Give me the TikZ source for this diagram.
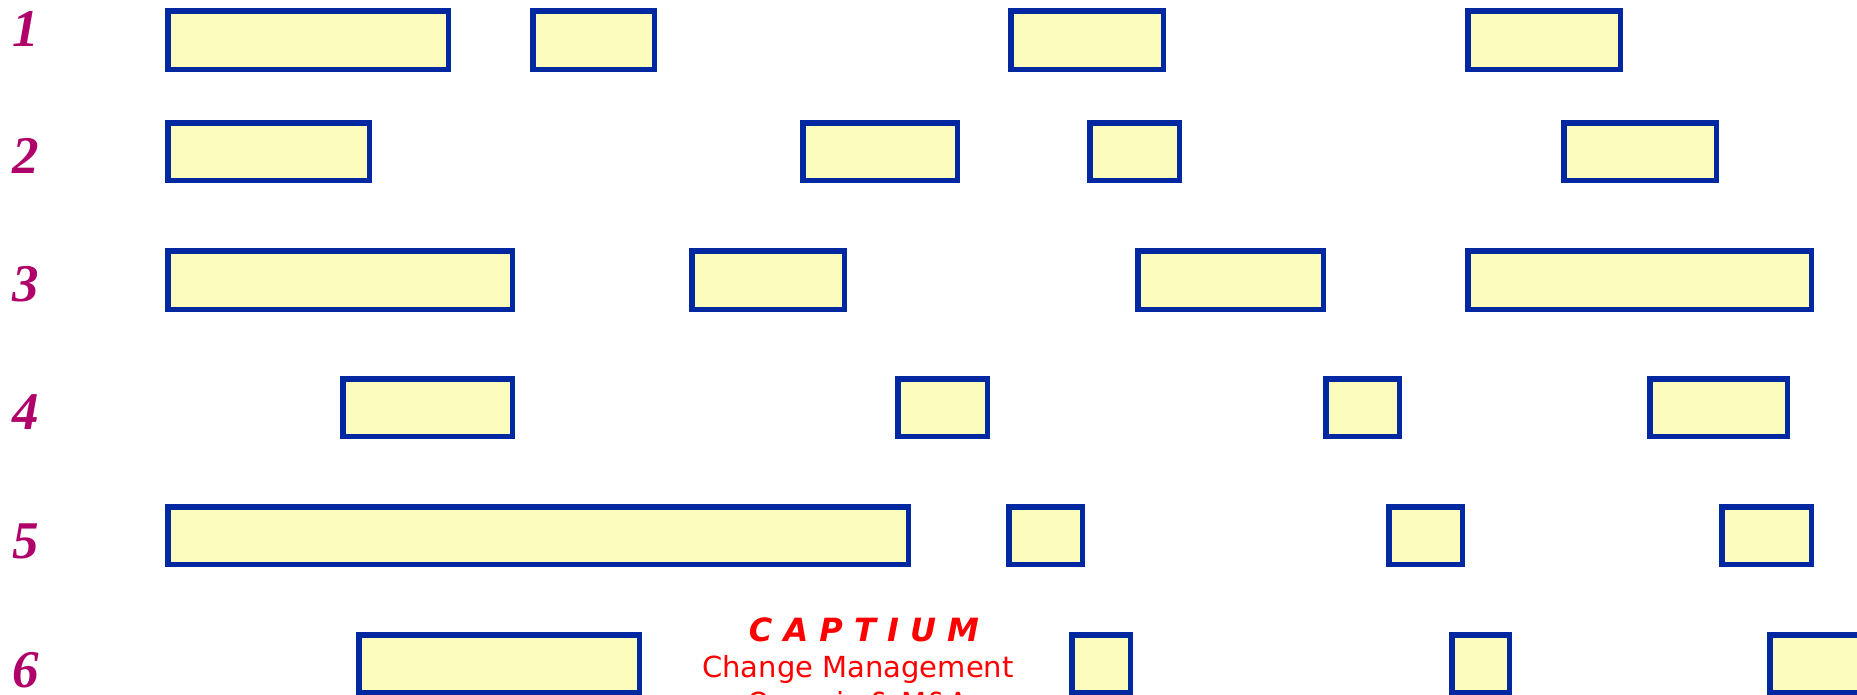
\documentclass[tikz,border=0pt]{standalone}
\usepackage{fontspec}
\setmainfont{DejaVu Sans}
\newfontfamily\digitfont{Liberation Serif}
\definecolor{boxfill}{RGB}{252,252,188}
\definecolor{boxline}{RGB}{0,40,160}
\definecolor{numcol}{RGB}{176,0,106}
\definecolor{captred}{RGB}{255,0,0}
\tikzset{
  barbox/.style={draw=boxline, fill=boxfill, line width=5.5pt, inner sep=0pt, rectangle},
  rownum/.style={text=numcol, font=\digitfont\bfseries\itshape\fontsize{53}{53}\selectfont, inner sep=0pt},
  capttitle/.style={text=captred, font=\bfseries\itshape\fontsize{32}{32}\selectfont, inner sep=0pt, anchor=base},
  captline/.style={text=captred, font=\fontsize{29}{29}\selectfont, inner sep=0pt, anchor=base}
}
\begin{document}
\begin{tikzpicture}[x=1pt,y=-1pt]
\useasboundingbox (0,0) rectangle (1857,694);
\clip (0,0) rectangle (1857,694);
\fill[white] (0,0) rectangle (1857,694);
% boxes: name / x1 / x2 / y1 / y2 (outer edges)
\foreach \n/\a/\b/\c/\d in {
  a1/165/451/8/72, a2/530/657/8/72, a3/1008/1166/8/72, a4/1465/1623/8/72,
  b1/165/372/120/183, b2/800/960/120/183, b3/1087/1182/120/183, b4/1561/1719/120/183,
  c1/165/515/248/312, c2/689/847/248/312, c3/1135/1326/248/312, c4/1465/1814/248/312,
  d1/340/515/376/439, d2/895/990/376/439, d3/1323/1402/376/439, d4/1647/1790/376/439,
  e1/165/911/504/567, e2/1006/1085/504/567, e3/1386/1465/504/567, e4/1719/1814/504/567,
  f1/356/642/632/695, f2/1069/1133/632/695, f3/1449/1512/632/695, f4/1767/1870/632/695}
{
  \node[barbox, minimum width={(\b-\a-5.5)*1pt}, minimum height={(\d-\c-5.5)*1pt}]
    (\n) at ({(\a+\b)/2},{(\c+\d)/2}) {};
}
% row numbers
\node[rownum] (n1) at (26,29) {1};
\node[rownum] (n2) at (26,155.5) {2};
\node[rownum] (n3) at (26,284) {3};
\node[rownum] (n4) at (26,412) {4};
\node[rownum] (n5) at (26,541) {5};
\node[rownum] (n6) at (26,670.5) {6};
% caption text
\node[capttitle] (t1) at (864,641.7) {C A P T I U M};
\node[captline] (t2) at (858,677.3) {Change Management};
\node[captline] (t3) at (858,713) {Organic \& M\&A};
\end{tikzpicture}
\end{document}
